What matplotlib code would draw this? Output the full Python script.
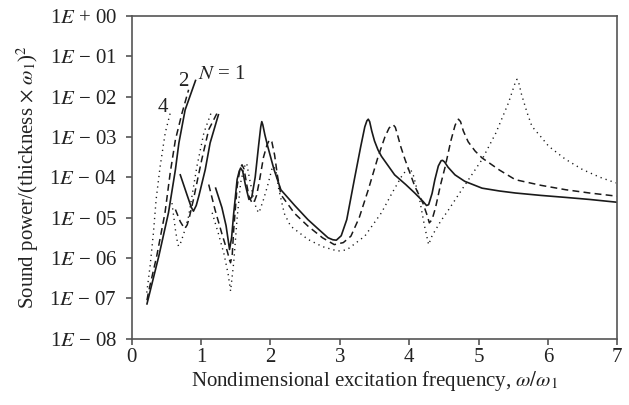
import numpy as np
import matplotlib
matplotlib.use("Agg")
import matplotlib.pyplot as plt

plt.rcParams['font.family'] = ['Liberation Serif', 'DejaVu Serif']
plt.rcParams['mathtext.fontset'] = 'stix'

# ---- data: (frequency ratio, log10 sound power); segments separated by None ----
n1_x = [0.22, 0.39, 0.53, 0.63, 0.68, 0.77, 0.92, None,
        0.70, 0.80, 0.86, 0.89, 0.93, 0.97, 1.06, 1.13, 1.25, None,
        1.21, 1.30, 1.36, 1.39, 1.41, 1.44, 1.47, 1.50, 1.52, 1.55, 1.57, 1.60, 1.64, 1.69,
        1.73, 1.78, 1.83, 1.86, 1.875, 1.89, 1.92,
        1.96, 2.05, 2.15, 2.35, 2.54, 2.70, 2.83, 2.90, 2.95, 3.02, 3.10, 3.21, 3.30, 3.36, 3.39, 3.41,
        3.43, 3.46, 3.50, 3.55, 3.60, 3.79, 3.95, 4.08, 4.20, 4.25, 4.28, 4.33, 4.37, 4.42, 4.46, 4.48,
        4.51, 4.56, 4.66, 4.80, 5.05, 5.30, 5.53, 5.90, 6.26, 6.60, 7.00]
n1_y = [-7.14, -5.96, -4.88, -3.81, -3.15, -2.33, -1.60, None,
        -3.94, -4.45, -4.75, -4.84, -4.70, -4.45, -3.81, -3.15, -2.45, None,
        -4.27, -4.75, -5.20, -5.55, -5.79, -5.50, -4.90, -4.39, -4.05, -3.85, -3.77, -3.85, -4.20, -4.55,
        -4.50, -4.00, -3.20, -2.75, -2.62, -2.70, -2.95,
        -3.23, -3.80, -4.31, -4.70, -5.05, -5.30, -5.50, -5.55, -5.56, -5.45, -5.05, -4.05, -3.25, -2.75, -2.60, -2.56,
        -2.62, -2.85, -3.10, -3.32, -3.48, -3.94, -4.18, -4.39, -4.60, -4.70, -4.68, -4.40, -4.06, -3.72, -3.59, -3.58,
        -3.62, -3.75, -3.94, -4.10, -4.27, -4.34, -4.39, -4.45, -4.50, -4.55, -4.62]

n2_x = [0.22, 0.24, 0.36, 0.48, 0.555, 0.63, 0.725, 0.82, None,
        0.63, 0.70, 0.75, 0.77, 0.80, 0.83, 0.89, 0.95, 1.01, 1.11, 1.23, None,
        1.11, 1.20, 1.30, 1.38, 1.41, 1.425, 1.45, 1.47, 1.52, 1.56, 1.59, 1.62, 1.66, 1.69, 1.73, 1.76,
        1.80, 1.84, 1.90, 1.95, 1.98, 2.00, 2.02, 2.06, 2.10, 2.15, 2.35, 2.54, 2.75, 2.92, 3.05, 3.16,
        3.28, 3.41, 3.55, 3.65, 3.71, 3.75, 3.77, 3.80, 3.84, 3.88, 3.94, 4.08, 4.20, 4.26, 4.29, 4.33,
        4.38, 4.45, 4.52, 4.60, 4.66, 4.69, 4.71, 4.74, 4.78, 4.85,
        4.95, 5.05, 5.30, 5.53, 5.90, 6.26, 6.60, 7.00]
n2_y = [-7.05, -6.86, -5.96, -4.88, -3.89, -3.07, -2.41, -1.83, None,
        -4.80, -5.10, -5.24, -5.26, -5.18, -5.00, -4.55, -4.05, -3.56, -2.82, -2.41, None,
        -4.18, -4.80, -5.40, -5.85, -6.05, -6.12, -5.90, -5.30, -4.22, -3.80, -3.69, -3.80, -4.20, -4.47, -4.62, -4.64,
        -4.45, -4.10, -3.50, -3.20, -3.09, -3.07, -3.12, -3.45, -3.95, -4.43, -4.90, -5.21, -5.50, -5.67, -5.62, -5.46,
        -5.00, -4.31, -3.50, -3.00, -2.78, -2.71, -2.70, -2.76, -3.00, -3.25, -3.56, -4.22, -4.65, -4.95, -5.13, -5.05,
        -4.75, -4.20, -3.73, -3.10, -2.72, -2.60, -2.56, -2.62, -2.85, -3.12,
        -3.35, -3.52, -3.82, -4.06, -4.20, -4.31, -4.39, -4.47]

n4_x = [0.217, 0.265, 0.313, 0.352, 0.41, 0.483, 0.555, None,
        0.58, 0.63, 0.66, 0.675, 0.70, 0.75, 0.82, 0.88, 0.94, 1.04, 1.16, None,
        1.16, 1.25, 1.33, 1.39, 1.425, 1.47, 1.52, 1.57, 1.62, 1.657, 1.70, 1.76, 1.80, 1.835, 1.90, 1.957,
        2.02, 2.05, 2.08, 2.12, 2.20, 2.29, 2.54, 2.75, 2.97, 3.10, 3.36, 3.60, 3.75, 3.89, 3.96, 4.01, 4.06,
        4.15, 4.22, 4.28, 4.33, 4.45, 4.57, 4.80, 5.05, 5.25, 5.43, 5.50, 5.535, 5.555, 5.58, 5.62, 5.70,
        5.77, 5.90, 6.01, 6.25, 6.50, 6.75, 6.98]
n4_y = [-6.86, -6.20, -5.38, -4.55, -3.73, -2.90, -2.41, None,
        -4.64, -5.30, -5.62, -5.71, -5.65, -5.40, -4.97, -4.35, -3.73, -2.90, -2.33, None,
        -4.88, -5.40, -5.90, -6.40, -6.82, -6.12, -5.00, -4.14, -3.75, -3.65, -4.05, -4.55, -4.80, -4.88, -4.55, -4.22,
        -3.80, -3.73, -3.85, -4.30, -4.90, -5.21, -5.54, -5.72, -5.83, -5.80, -5.46, -4.88, -4.40, -3.98, -3.82, -3.77, -3.95,
        -4.55, -5.20, -5.67, -5.45, -5.10, -4.80, -4.20, -3.56, -2.90, -2.16, -1.80, -1.62, -1.57, -1.66, -1.95, -2.40,
        -2.74, -3.00, -3.23, -3.55, -3.81, -4.00, -4.14]

x_ticks = [0, 1, 2, 3, 4, 5, 6, 7]
y_exps = [0, -1, -2, -3, -4, -5, -6, -7, -8]
y_labels = ['1$\\mathit{E}$ + 00', '1$\\mathit{E}$ − 01', '1$\\mathit{E}$ − 02', '1$\\mathit{E}$ − 03',
            '1$\\mathit{E}$ − 04', '1$\\mathit{E}$ − 05', '1$\\mathit{E}$ − 06', '1$\\mathit{E}$ − 07',
            '1$\\mathit{E}$ − 08']


def to_arrays(xs, ys):
    x = np.array([np.nan if v is None else v for v in xs], dtype=float)
    y = np.array([np.nan if v is None else 10.0 ** v for v in ys], dtype=float)
    return x, y


fig = plt.figure(figsize=(6.29, 4.05), dpi=100)
ax = fig.add_axes([0.2094, 0.164, 0.7720, 0.7966])

lc = '#1a1a1a'
tc = '#222222'
x1, y1 = to_arrays(n1_x, n1_y)
x2, y2 = to_arrays(n2_x, n2_y)
x4, y4 = to_arrays(n4_x, n4_y)
ax.plot(x1, y1, color=lc, lw=1.2, ls='-', solid_joinstyle='round')
ax.plot(x2, y2, color=lc, lw=1.1, ls=(0, (4.5, 2.8)))
ax.plot(x4, y4, color=lc, lw=1.0, ls=(0, (0.9, 2.9)))

ax.set_yscale('log')
ax.set_xlim(0, 7)
ax.set_ylim(1e-8, 1e0)
ax.set_xticks(x_ticks)
ax.set_xticklabels([str(t) for t in x_ticks])
ax.set_yticks([10.0 ** e for e in y_exps])
ax.set_yticklabels(y_labels)
ax.yaxis.set_minor_locator(matplotlib.ticker.NullLocator())

spc = '#555555'
for s in ax.spines.values():
    s.set_color(spc)
    s.set_linewidth(1.2)
ax.tick_params(axis='both', direction='out', length=4, width=1.2, color=spc,
               labelsize=15, labelcolor=tc)
ax.tick_params(axis='y', pad=6.5)
ax.tick_params(axis='x', pad=3)

ax.set_xlabel('Nondimensional excitation frequency, $\\omega/\\omega_1$',
              fontsize=15, color=tc, labelpad=1)
ax.set_ylabel('Sound power/(thickness $\\times$ $\\omega_1$)$^2$',
              fontsize=15, color=tc, labelpad=6)

ax.text(0.96, 10 ** -1.44, '$N$ = 1', fontsize=15, color=tc, va='center', ha='left')
ax.text(0.75, 10 ** -1.63, '2', fontsize=15, color=tc, va='center', ha='center')
ax.text(0.443, 10 ** -2.26, '4', fontsize=15, color=tc, va='center', ha='center')

fig.savefig('out.png', dpi=100)
